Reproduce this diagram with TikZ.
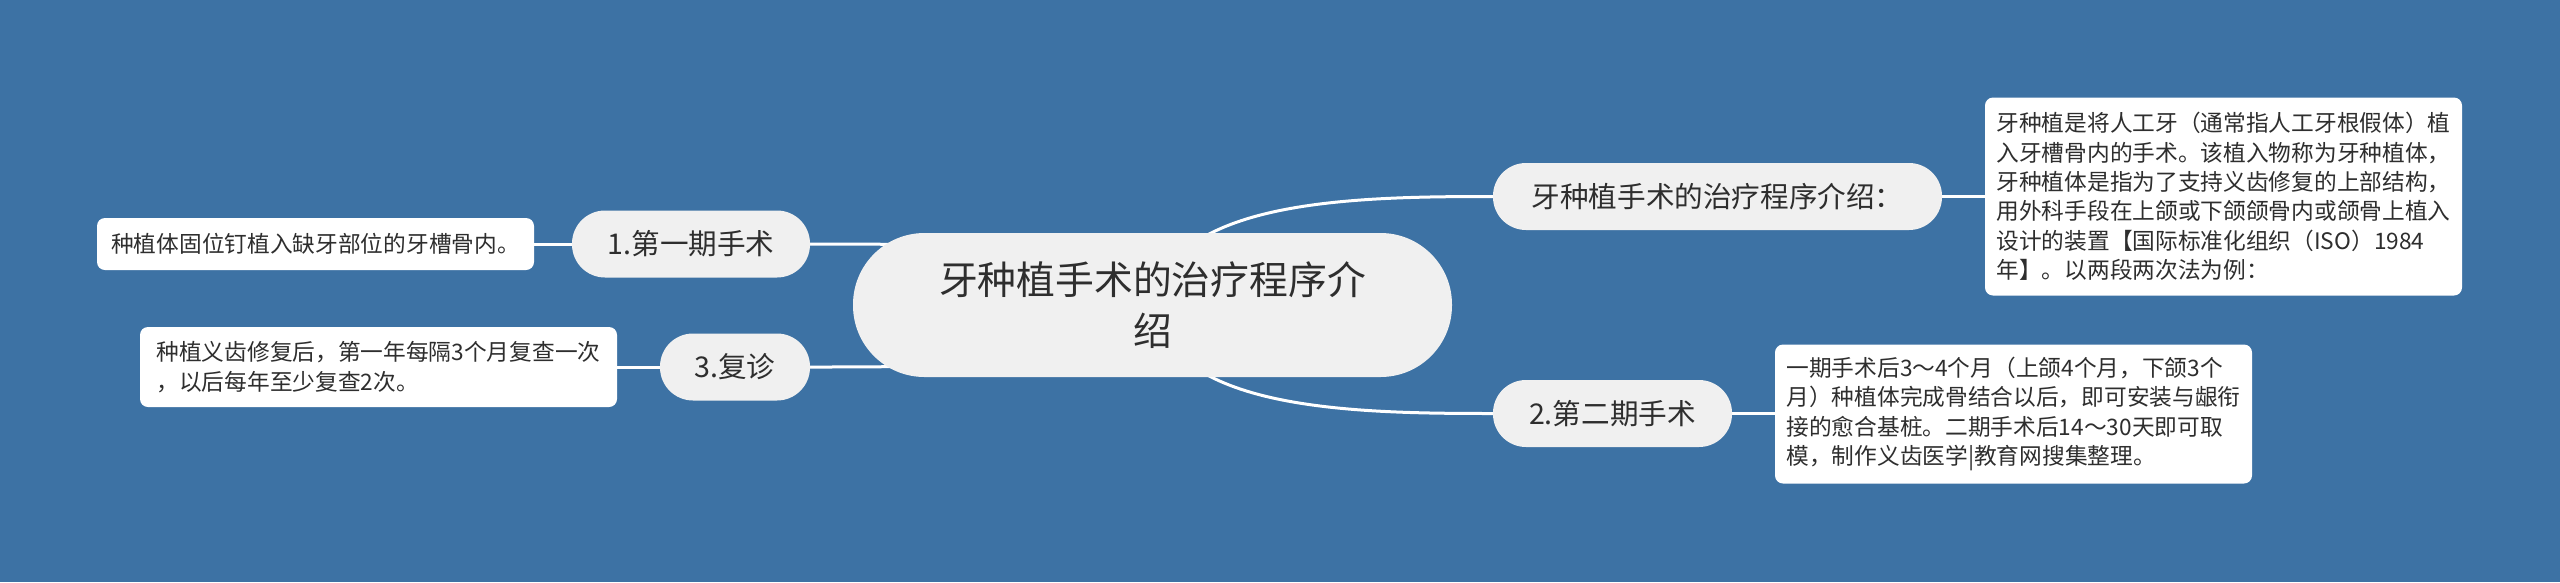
\documentclass[tikz,border=0pt]{standalone}
\usepackage{fontspec}
\newfontfamily\cjk{Noto Sans CJK SC}
\usepackage{xcolor}
\usepackage{tikz}
\definecolor{bgblue}{HTML}{3D72A4}
\definecolor{nodegray}{HTML}{F0F0F0}
\definecolor{inkgray}{HTML}{2E2E2E}
\pgfdeclarelayer{back}
\pgfdeclarelayer{links}
\pgfsetlayers{back,links,main}

\begin{document}
\begin{tikzpicture}[x=1pt, y=-1pt,
    root/.style={fill=nodegray, rounded corners=71.5pt, minimum width=599pt, minimum height=144pt, align=center, text=inkgray, font=\cjk\fontsize{38.8}{51}\selectfont},
    topic/.style={fill=nodegray, rounded corners=33pt, minimum height=67pt, text=inkgray, font=\cjk\fontsize{28.6}{36}\selectfont},
    note/.style={fill=white, rounded corners=8pt, align=left, text=inkgray, font=\cjk\fontsize{22.7}{29.4}\selectfont},
    link/.style={draw=white, line width=3pt}]
                \begin{pgfonlayer}{back}
                \fill[bgblue] (0,0) rectangle (2560,582);
                \end{pgfonlayer}
                \useasboundingbox (0,0) rectangle (2560,582);
                \node[root] (root) at (1152.5,305) {牙种植手术的治疗程序介\\绍};
                \node[topic, minimum width=449pt] (intro) at (1717.5,196.5) {牙种植手术的治疗程序介绍：};
                \node[topic, minimum width=239pt] (step2) at (1612.5,413.5) {2.第二期手术};
                \node[topic, minimum width=238pt] (step1) at (691,244) {1.第一期手术};
                \node[topic, minimum width=150pt] (step3) at (735,367) {3.复诊};
                \node[note, minimum width=477pt, minimum height=198pt] (introtext) at (2223.5,196.5) {牙种植是将人工牙（通常指人工牙根假体）植\\入牙槽骨内的手术。该植入物称为牙种植体，\\牙种植体是指为了支持义齿修复的上部结构，\\用外科手段在上颌或下颌颌骨内或颌骨上植入\\设计的装置【国际标准化组织（ISO）1984\\年】。以两段两次法为例：};
                \node[note, minimum width=477pt, minimum height=139pt] (step2text) at (2013.5,414) {一期手术后3～4个月（上颌4个月，下颌3个\\月）种植体完成骨结合以后，即可安装与龈衔\\接的愈合基桩。二期手术后14～30天即可取\\模，制作义齿医学|教育网搜集整理。};
                \node[note, minimum width=437pt, minimum height=52pt] (step1text) at (315.5,244) {种植体固位钉植入缺牙部位的牙槽骨内。};
                \node[note, minimum width=477pt, minimum height=80pt] (step3text) at (378.5,367) {种植义齿修复后，第一年每隔3个月复查一次\\，以后每年至少复查2次。};
                \begin{pgfonlayer}{links}
                \draw[link] (root.center) .. controls +(18,-105) and +(-143,0) .. (intro.west);
                \draw[link] (root.center) .. controls +(18,105) and +(-143,0) .. (step2.west);
                \draw[link] (root.center) .. controls +(-18,-61) and +(143,0) .. (step1.east);
                \draw[link] (root.center) .. controls +(-18,62) and +(143,0) .. (step3.east);
                \draw[link] (intro.east) -- (introtext.west |- intro.east);
                \draw[link] (step2.east) -- (step2text.west |- step2.east);
                \draw[link] (step1.west) -- (step1text.east);
                \draw[link] (step3.west) -- (step3text.east);
                \end{pgfonlayer}
            \end{tikzpicture}
\end{document}
